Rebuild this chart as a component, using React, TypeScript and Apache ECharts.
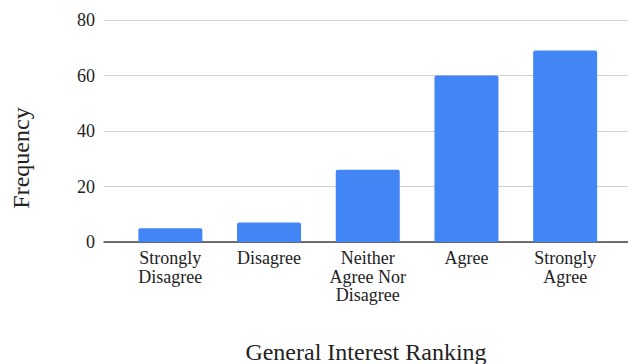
import React, { useEffect, useRef } from "react";
import * as echarts from "echarts";

const categories = [
  "Strongly\nDisagree",
  "Disagree",
  "Neither\nAgree Nor\nDisagree",
  "Agree",
  "Strongly\nAgree",
];
const frequency = [5, 7, 26, 60, 69];
const yTicks = { min: 0, max: 80, interval: 20 };

const FONT = "Liberation Serif";

export default function App() {
  const ref = useRef<HTMLDivElement>(null);

  useEffect(() => {
    if (!ref.current) return;
    const chart = echarts.init(ref.current, null, { renderer: "svg" });
    chart.setOption({
      animation: false,
      backgroundColor: "#ffffff",
      textStyle: { fontFamily: FONT, color: "#222" },
      grid: [
        // bars and category labels
        { left: 121, right: 13.5, top: 20, bottom: 122, containLabel: false, outerBoundsMode: "none" },
        // full-width gridlines, value labels and baseline
        { left: 104, right: 0, top: 20, bottom: 122, containLabel: false, outerBoundsMode: "none" },
      ],
      xAxis: [
        {
          type: "category",
          gridIndex: 0,
          data: categories,
          axisLine: { show: false },
          axisTick: { show: false },
          axisLabel: {
            interval: 0,
            margin: 7,
            fontFamily: FONT,
            fontSize: 18,
            lineHeight: 18.5,
            color: "#222",
          },
        },
        {
          type: "value",
          gridIndex: 1,
          min: 0,
          max: 1,
          axisLine: { show: true, onZero: false, lineStyle: { color: "#444", width: 1.5 } },
          axisTick: { show: false },
          axisLabel: { show: false },
          splitLine: { show: false },
          name: "General Interest Ranking",
          nameLocation: "middle",
          nameGap: 98,
          nameTextStyle: { color: "#222", fontFamily: FONT, fontSize: 24 },
        },
      ],
      yAxis: [
        {
          type: "value",
          gridIndex: 0,
          ...yTicks,
          show: false,
          splitLine: { show: false },
        },
        {
          type: "value",
          gridIndex: 1,
          ...yTicks,
          axisLine: { show: false },
          axisTick: { show: false },
          axisLabel: {
            margin: 9,
            color: "#222",
            fontFamily: FONT,
            fontSize: 18,
          },
          splitLine: { show: true, lineStyle: { color: "#d0d0d0", width: 1 } },
        },
      ],
      graphic: [
        {
          type: "text",
          x: 21,
          y: 158,
          rotation: Math.PI / 2,
          style: {
            text: "Frequency",
            fontFamily: FONT,
            fontSize: 24,
            fill: "#222",
            align: "center",
            verticalAlign: "middle",
          },
        },
      ],
      series: [
        {
          type: "bar",
          xAxisIndex: 0,
          yAxisIndex: 0,
          data: frequency,
          barWidth: 64,
          itemStyle: { color: "#4285F4", borderRadius: [2, 2, 0, 0] },
          z: 3,
        },
      ],
    });
    return () => chart.dispose();
  }, []);

  return (
    <div
      ref={ref}
      style={{ width: 628, height: 364, position: "absolute", left: 0, top: 0 }}
    />
  );
}
